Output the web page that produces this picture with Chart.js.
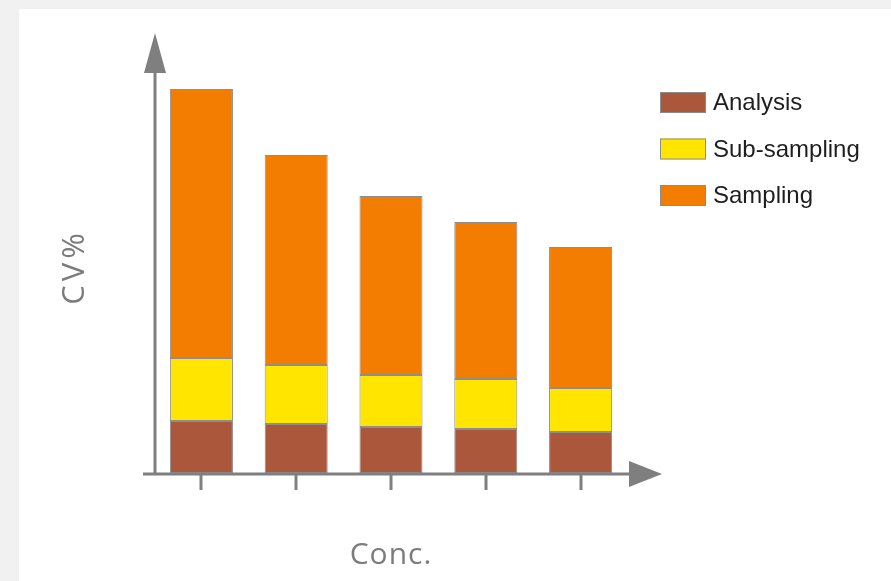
<!DOCTYPE html>
<html>
<head>
<meta charset="utf-8">
<script src="https://cdn.jsdelivr.net/npm/chart.js@4/dist/chart.umd.min.js"></script>
<style>
  html, body { margin: 0; padding: 0; background: #f1f1f1; }
  #wrap { position: relative; width: 891px; height: 581px; }
  canvas { display: block; }
</style>
</head>
<body>
<div id="wrap"><canvas id="c" width="891" height="581"></canvas></div>
<script>
// Five concentration levels (unlabelled on the axis)
const categories = ['c1', 'c2', 'c3', 'c4', 'c5'];

// CV% contribution of each error source, stacked bottom to top
const analysis    = [13, 12.25, 11.5, 11, 10.25];
const subSampling = [15.75, 14.75, 13, 12.5, 11];
const sampling    = [67.25, 52.5, 44.75, 39.25, 35.25];

const seriesNames = ['Analysis', 'Sub-sampling', 'Sampling'];
const axisTitles = { x: 'Conc.', y: 'CV%' };

const AXIS_GREY = '#7f7f7f';

// Page panel: grey margin with a white card behind the chart
const panelPlugin = {
  id: 'panel',
  beforeDraw(chart) {
    const ctx = chart.ctx;
    ctx.save();
    ctx.fillStyle = '#f1f1f1';
    ctx.fillRect(0, 0, chart.width, chart.height);
    ctx.fillStyle = '#ffffff';
    ctx.fillRect(19, 9, chart.width - 19, chart.height - 9);
    ctx.restore();
  }
};

// Axes with arrow heads, tick marks under each bar, and axis titles
const arrowAxesPlugin = {
  id: 'arrowAxes',
  afterDatasetsDraw(chart) {
    const ctx = chart.ctx;
    const area = chart.chartArea;
    const xs = chart.scales.x;
    const y0 = area.bottom + 1;
    const x0 = area.left + 1;
    ctx.save();
    ctx.strokeStyle = AXIS_GREY;
    ctx.fillStyle = AXIS_GREY;
    ctx.lineWidth = 3;

    // vertical axis
    ctx.beginPath();
    ctx.moveTo(x0, y0 + 1);
    ctx.lineTo(x0, area.top + 38);
    ctx.stroke();
    ctx.beginPath();
    ctx.moveTo(x0, area.top);
    ctx.lineTo(x0 - 11, area.top + 40);
    ctx.lineTo(x0 + 11, area.top + 40);
    ctx.closePath();
    ctx.fill();

    // horizontal axis
    ctx.beginPath();
    ctx.moveTo(area.left - 11, y0);
    ctx.lineTo(area.right + 4, y0);
    ctx.stroke();
    ctx.beginPath();
    ctx.moveTo(area.right + 1, y0 - 13);
    ctx.lineTo(area.right + 34, y0);
    ctx.lineTo(area.right + 1, y0 + 13);
    ctx.closePath();
    ctx.fill();

    // tick marks at the category centres
    categories.forEach((c, i) => {
      const px = Math.round(xs.getPixelForValue(i));
      ctx.beginPath();
      ctx.moveTo(px, y0);
      ctx.lineTo(px, y0 + 16);
      ctx.stroke();
    });

    // axis titles
    ctx.fillStyle = '#7c7c7c';
    ctx.font = '400 30px "Open Sans", "DejaVu Sans", sans-serif';
    ctx.textAlign = 'center';
    ctx.textBaseline = 'middle';
    ctx.letterSpacing = '1px';
    ctx.fillText(axisTitles.x, 391, 555);
    ctx.translate(75, 269);
    ctx.rotate(-Math.PI / 2);
    ctx.font = '400 31px "Open Sans", "DejaVu Sans", sans-serif';
    ctx.letterSpacing = '4px';
    ctx.fillText(axisTitles.y, 2, 0);
    ctx.restore();
  }
};

// Legend block to the right of the plot
const sideLegendPlugin = {
  id: 'sideLegend',
  afterDraw(chart) {
    const ctx = chart.ctx;
    ctx.save();
    const boxX = 660, boxW = 46, boxH = 21, top = 92, step = 46.5;
    ctx.font = '24px "Liberation Sans", Arial, sans-serif';
    ctx.textBaseline = 'middle';
    ctx.textAlign = 'left';
    chart.data.datasets.forEach((ds, i) => {
      const y = top + i * step;
      ctx.fillStyle = ds.backgroundColor;
      ctx.fillRect(boxX, y, boxW, boxH);
      ctx.strokeStyle = '#8c8c8c';
      ctx.lineWidth = 1;
      ctx.strokeRect(boxX + 0.5, y + 0.5, boxW - 1, boxH - 1);
      ctx.fillStyle = '#1e1e1e';
      ctx.fillText(ds.label, 713, y + boxH / 2 + 1);
    });
    ctx.restore();
  }
};

const colours = ['#ab573b', '#ffe500', '#f27d00'];
const seriesValues = [analysis, subSampling, sampling];

new Chart(document.getElementById('c'), {
  type: 'bar',
  data: {
    labels: categories,
    datasets: seriesNames.map((name, i) => ({
      label: name,
      data: seriesValues[i],
      backgroundColor: colours[i],
      borderColor: '#8e8e8e',
      borderWidth: 1,
      borderSkipped: false,
      categoryPercentage: 1,
      barPercentage: 0.665
    }))
  },
  options: {
    responsive: false,
    animation: false,
    layout: { padding: { left: 154, right: 263, top: 33, bottom: 108 } },
    plugins: {
      legend: { display: false },
      tooltip: { enabled: false },
      title: { display: false }
    },
    scales: {
      x: { stacked: true, display: false },
      y: { stacked: true, display: false, min: 0, max: 110 }
    }
  },
  plugins: [panelPlugin, arrowAxesPlugin, sideLegendPlugin]
});
</script>
</body>
</html>
